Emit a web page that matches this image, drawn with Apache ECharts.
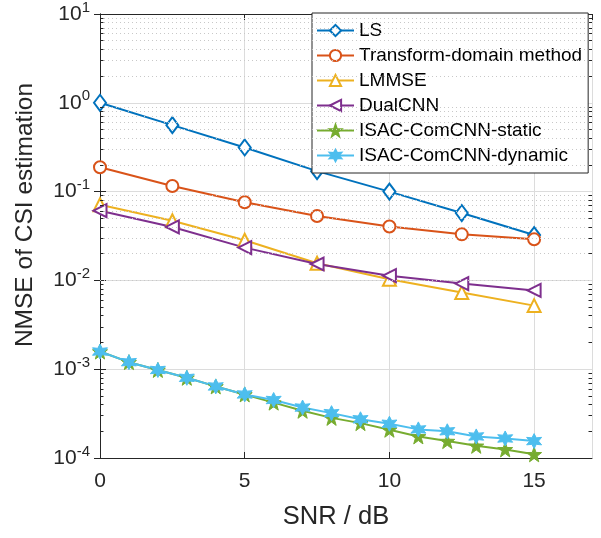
<!DOCTYPE html>
<html>
<head>
<meta charset="utf-8">
<script src="https://cdn.jsdelivr.net/npm/echarts@6/dist/echarts.min.js"></script>
<style>
  html, body { margin: 0; padding: 0; background: #fff; }
  #chart { width: 601px; height: 538px; }
</style>
</head>
<body>
<div id="chart"></div>
<script>
// SNR 取值
const snrCoarse = [0, 2.5, 5, 7.5, 10, 12.5, 15]
const snrFine = [0, 1, 2, 3, 4, 5, 6, 7, 8, 9, 10, 11, 12, 13, 14, 15]

// 各方法 NMSE
const lsData = [1.0, 0.56, 0.314, 0.17, 0.1, 0.0574, 0.0324]
const transformData = [0.188, 0.1156, 0.076, 0.0532, 0.0405, 0.033, 0.029]
const lmmseData = [0.071, 0.047, 0.0283, 0.0156, 0.0103, 0.0073, 0.0052]
const dualCnnData = [0.061, 0.04, 0.0234, 0.0153, 0.0113, 0.0092, 0.0077]
const staticData = [0.00158, 0.0012, 0.00098, 0.0008, 0.00064, 0.00052, 0.00042, 0.00034,
  0.000283, 0.000247, 0.000208, 0.000175, 0.000155, 0.000137, 0.000125, 0.00011]
const dynamicData = [0.00158, 0.0012, 0.00098, 0.0008, 0.00064, 0.00052, 0.00045, 0.00037,
  0.00032, 0.000273, 0.000243, 0.00021, 0.0002, 0.000175, 0.000166, 0.000155]

const legendNames = ['LS', 'Transform-domain method', 'LMMSE', 'DualCNN',
  'ISAC-ComCNN-static', 'ISAC-ComCNN-dynamic']

// 对数轴的次网格 (2..9 x 10^k)
const minorValues = []
for (let k = -4; k < 1; k++) {
  for (let m = 2; m <= 9; m++) minorValues.push(m * Math.pow(10, k))
}

const starPath = 'path://M0,-10 L2.35,-3.24 L9.51,-3.09 L3.8,1.24 L5.88,8.09 L0,4 L-5.88,8.09 L-3.8,1.24 L-9.51,-3.09 L-2.35,-3.24 Z'
const hexPath = 'path://M0,-10 L2.5,-4.33 L8.66,-5 L5,0 L8.66,5 L2.5,4.33 L0,10 L-2.5,4.33 L-8.66,5 L-5,0 L-8.66,-5 L-2.5,-4.33 Z'

const pairs = (xs, ys) => xs.map((x, i) => [x, ys[i]])

const font = 'Liberation Sans, Arial, Helvetica, sans-serif'
const axisColor = '#262626'

const chart = echarts.init(document.getElementById('chart'))

const mkSeries = (name, xs, ys, color, symbol, size, extra) => Object.assign({
  name: name,
  type: 'line',
  data: pairs(xs, ys),
  symbol: symbol,
  symbolSize: size,
  lineStyle: { color: color, width: 2 },
  itemStyle: { color: color, borderColor: color, borderWidth: 2 },
  emphasis: { disabled: true },
  animation: false,
  z: 3
}, extra || {})

chart.setOption({
  animation: false,
  textStyle: { fontFamily: font },
  grid: { left: 100, right: 9, top: 9, bottom: 80, containLabel: false },
  /* 坐标轴标题 */
  graphic: [
    {
      type: 'text',
      x: 25,
      y: 215,
      rotation: Math.PI / 2,
      style: {
        text: 'NMSE of CSI estimation',
        fontSize: 24.5,
        fontFamily: font,
        fill: '#262626',
        align: 'center',
        verticalAlign: 'middle'
      }
    },
    {
      type: 'text',
      x: 336,
      y: 517,
      style: {
        text: 'SNR / dB',
        fontSize: 25.5,
        fontFamily: font,
        fill: '#262626',
        align: 'center',
        verticalAlign: 'middle'
      }
    }
  ],
  legend: {
    data: legendNames,
    orient: 'vertical',
    left: 312,
    top: 13,
    padding: [7, 6, 7, 4],
    itemGap: 4,
    itemWidth: 37,
    itemHeight: 14,
    backgroundColor: '#fff',
    borderColor: axisColor,
    borderWidth: 1,
    borderRadius: 0,
    textStyle: { fontSize: 19, color: '#000', fontFamily: font, lineHeight: 21 },
    selectedMode: false
  },
  xAxis: [
    {
      type: 'value',
      min: 0,
      max: 17,
      interval: 5,
      axisLine: { show: true, lineStyle: { color: axisColor, width: 1 } },
      axisTick: { show: true, inside: true, length: 6, lineStyle: { color: axisColor } },
      axisLabel: { fontSize: 21, color: '#262626', margin: 13, showMaxLabel: false },
      splitLine: { show: true, lineStyle: { color: '#dcdcdc', width: 1 } }
    },
    {
      type: 'value',
      position: 'top',
      min: 0,
      max: 17,
      interval: 5,
      axisLine: { show: true, lineStyle: { color: axisColor, width: 1 } },
      axisTick: { show: true, inside: true, length: 6, lineStyle: { color: axisColor } },
      axisLabel: { show: false },
      splitLine: { show: false }
    }
  ],
  yAxis: [
    {
      type: 'log',
      logBase: 10,
      min: 1e-4,
      max: 10,
      axisLine: { show: true, lineStyle: { color: axisColor, width: 1 } },
      axisTick: { show: true, inside: true, length: 6, lineStyle: { color: axisColor } },
      axisLabel: {
        color: '#262626',
        margin: 10,
        formatter: v => '{b|10}{s|' + Math.round(Math.log10(v)) + '}',
        rich: {
          b: { fontSize: 21, color: '#262626', fontFamily: font },
          s: { fontSize: 15, color: '#262626', fontFamily: font, padding: [0, 0, 13, 0] }
        }
      },
      splitLine: { show: true, lineStyle: { color: '#dcdcdc', width: 1 } }
    },
    {
      type: 'log',
      logBase: 10,
      min: 1e-4,
      max: 10,
      position: 'right',
      axisLine: { show: true, lineStyle: { color: axisColor, width: 1 } },
      axisTick: { show: true, inside: true, length: 6, lineStyle: { color: axisColor } },
      axisLabel: { show: false },
      splitLine: { show: false }
    }
  ],
  series: [
    // 次网格线与次刻度
    {
      type: 'line',
      data: [],
      silent: true,
      z: 1,
      markLine: {
        silent: true,
        symbol: 'none',
        animation: false,
        label: { show: false },
        lineStyle: { color: '#c8c8c8', type: [1, 3], width: 1 },
        data: minorValues.map(v => ({ yAxis: v }))
      }
    },
    {
      type: 'line',
      data: [],
      silent: true,
      z: 2,
      markLine: {
        silent: true,
        symbol: 'none',
        animation: false,
        label: { show: false },
        lineStyle: { color: axisColor, type: 'solid', width: 1 },
        data: minorValues.map(v => [{ coord: [0, v] }, { coord: [0.12, v] }])
          .concat(minorValues.map(v => [{ coord: [16.88, v] }, { coord: [17, v] }]))
      }
    },
    mkSeries('LS', snrCoarse, lsData, '#0072BD', 'emptyDiamond', [12, 16]),
    mkSeries('Transform-domain method', snrCoarse, transformData, '#D95319', 'emptyCircle', 12),
    mkSeries('LMMSE', snrCoarse, lmmseData, '#EDB120', 'emptyTriangle', 13),
    mkSeries('DualCNN', snrCoarse, dualCnnData, '#7E2F8E', 'emptyTriangle', 13, { symbolRotate: 90 }),
    mkSeries('ISAC-ComCNN-static', snrFine, staticData, '#77AC30', starPath, 15,
      { itemStyle: { color: '#77AC30', borderColor: '#77AC30', borderWidth: 1 } }),
    mkSeries('ISAC-ComCNN-dynamic', snrFine, dynamicData, '#4DBEEE', hexPath, 15,
      { itemStyle: { color: '#4DBEEE', borderColor: '#4DBEEE', borderWidth: 1 } })
  ]
})
</script>
</body>
</html>
